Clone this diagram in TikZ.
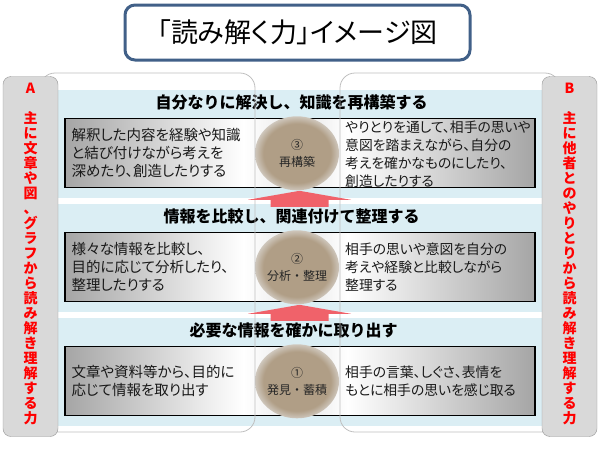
\documentclass[tikz,border=0pt]{standalone}
\usepackage{fontspec}
\setmainfont{Noto Sans CJK JP}
\newfontfamily\jppalt{Noto Sans CJK JP}[RawFeature=+palt]
\usetikzlibrary{positioning,calc,shapes.geometric}
\definecolor{bandblue}{RGB}{219,238,244}
\definecolor{titleblue}{RGB}{65,96,136}
\definecolor{sidegray}{RGB}{217,217,217}
\definecolor{sideline}{RGB}{150,150,150}
\definecolor{framegray}{RGB}{191,191,191}
\definecolor{arrowred}{RGB}{240,98,106}
\definecolor{discbrown}{RGB}{176,158,134}
\definecolor{boxgray}{RGB}{165,165,165}
\definecolor{boxmid}{RGB}{230,230,230}
\pgfdeclarehorizontalshading{boxshade}{100bp}{color(0bp)=(boxgray); color(25bp)=(boxgray); color(44bp)=(white); color(50bp)=(boxmid); color(55bp)=(white); color(75bp)=(boxgray); color(100bp)=(boxgray)}
\pgfdeclareradialshading{blurdisk}{\pgfpoint{0bp}{0bp}}{color(0bp)=(discbrown); color(20bp)=(discbrown); color(29bp)=(boxmid); color(50bp)=(boxmid)}

\begin{document}
\begin{tikzpicture}[x=1pt, y=-1pt,
    band/.style={fill=bandblue, inner sep=0pt, minimum width=485pt, minimum height=108pt},
    heading/.style={font=\bfseries\fontsize{16}{18}\selectfont, inner sep=0pt},
    textbox/.style={draw=black, line width=1.3pt, shade, shading=boxshade, inner sep=0pt, minimum width=470pt, minimum height=69pt},
    body/.style={font=\jppalt\fontsize{14.5}{18}\selectfont, align=left, anchor=west, inner sep=0pt, text=black!90},
    bodyr/.style={body, font=\jppalt\fontsize{13.8}{18}\selectfont},
    disc/.style={ellipse, shade, shading=blurdisk, inner sep=0pt, minimum width=84pt, minimum height=74pt},
    disclabel/.style={font=\fontsize{12}{17}\selectfont, align=center, text=black!85},
    frame/.style={draw=framegray, line width=0.8pt, rounded corners=15pt},
    sidebox/.style={draw=sideline, fill=sidegray, rounded corners=8pt, minimum width=55pt, minimum height=360pt, inner sep=0pt},
    sidetext/.style={font=\bfseries\fontsize{14}{15}\selectfont, text=red, align=center, inner sep=0pt}]
    \useasboundingbox (0,0) rectangle (600,450);

    % Bands
    \node[band] (band3) at (300.5,144) {};
    \node[band] (band2) at (300.5,258) {};
    \node[band] (band1) at (300.5,372) {};

    % Headings
    \node[heading] (head3) at ($(band3.north)+(-9,13)$) {自分なりに解決し、知識を再構築する};
    \node[heading] (head2) at ($(band2.north)+(-9,13)$) {情報を比較し、関連付けて整理する};
    \node[heading] (head1) at ($(band1.north)+(-7,13)$) {必要な情報を確かに取り出す};

    % Boxes
    \node[textbox] (box3) at ($(band3.north)+(-0.5,63.5)$) {};
    \node[textbox] (box2) at ($(band2.north)+(-0.5,63.5)$) {};
    \node[textbox] (box1) at ($(band1.north)+(-0.5,63.5)$) {};

    % Discs
    \node[disc] (disc3) at ($(box3.center)+(-3,0)$) {};
    \node[disc] (disc2) at ($(box2.center)+(-3,0)$) {};
    \node[disc] (disc1) at ($(box1.center)+(-3,0)$) {};
    \node[disclabel] at (disc3) {③\\再構築};
    \node[disclabel] at (disc2) {②\\分析・整理};
    \node[disclabel] at (disc1) {①\\発見・蓄積};

    % Texts
    \node[body] (left3) at ($(box3.west)+(7,0)$) {解釈した内容を経験や知識\\と結び付けながら考えを\\深めたり、創造したりする};
    \node[bodyr] (right3) at ($(box3.center)+(45,1)$) {やりとりを通して、相手の思いや\\意図を踏まえながら、自分の\\考えを確かなものにしたり、\\創造したりする};
    \node[body] (left2) at ($(box2.west)+(7,0)$) {様々な情報を比較し、\\目的に応じて分析したり、\\整理したりする};
    \node[bodyr] (right2) at ($(box2.center)+(45,0)$) {相手の思いや意図を自分の\\考えや経験と比較しながら\\整理する};
    \node[body] (left1) at ($(box1.west)+(7,0)$) {文章や資料等から、目的に\\応じて情報を取り出す};
    \node[bodyr] (right1) at ($(box1.center)+(45,0)$) {相手の言葉、しぐさ、表情を\\もとに相手の思いを感じ取る};

    % Frames
    \draw[frame] (40,73) rectangle (255,432);
    \draw[frame] (340,73) rectangle (560,432);

    % Arrows
    \foreach \b in {band2,band1}
        \fill[arrowred, shift={(\b.north)}] (-1,-13) -- (50.5,-4) -- (28,-4) -- (28,3)
            -- (-30,3) -- (-30,-4) -- (-52.5,-4) -- cycle;

    % Side A
    \node[sidebox] (sideA) at (30.5,256.5) {};
    \node[sidetext] (labelA) at ($(sideA.north)+(0,12)$) {A};
    \node[sidetext, anchor=north] (textA) at ($(sideA.north)+(0,35)$)
        {主\\に\\文\\章\\や\\図\\、\\グ\\ラ\\フ\\か\\ら\\読\\み\\解\\き\\理\\解\\す\\る\\力};

    % Side B
    \node[sidebox] (sideB) at (569.5,256.5) {};
    \node[sidetext] (labelB) at ($(sideB.north)+(0,12)$) {B};
    \node[sidetext, anchor=north] (textB) at ($(sideB.north)+(0,35)$)
        {主\\に\\他\\者\\と\\の\\や\\り\\と\\り\\か\\ら\\読\\み\\解\\き\\理\\解\\す\\る\\力};

    % Title
    \node[draw=titleblue, line width=3pt, fill=white, rounded corners=10pt,
        minimum width=345pt, minimum height=55pt, font=\jppalt\fontsize{27}{30}\selectfont] (title)
        at (297.5,32.5) {「読み解く力」イメージ図};
\end{tikzpicture}
\end{document}
